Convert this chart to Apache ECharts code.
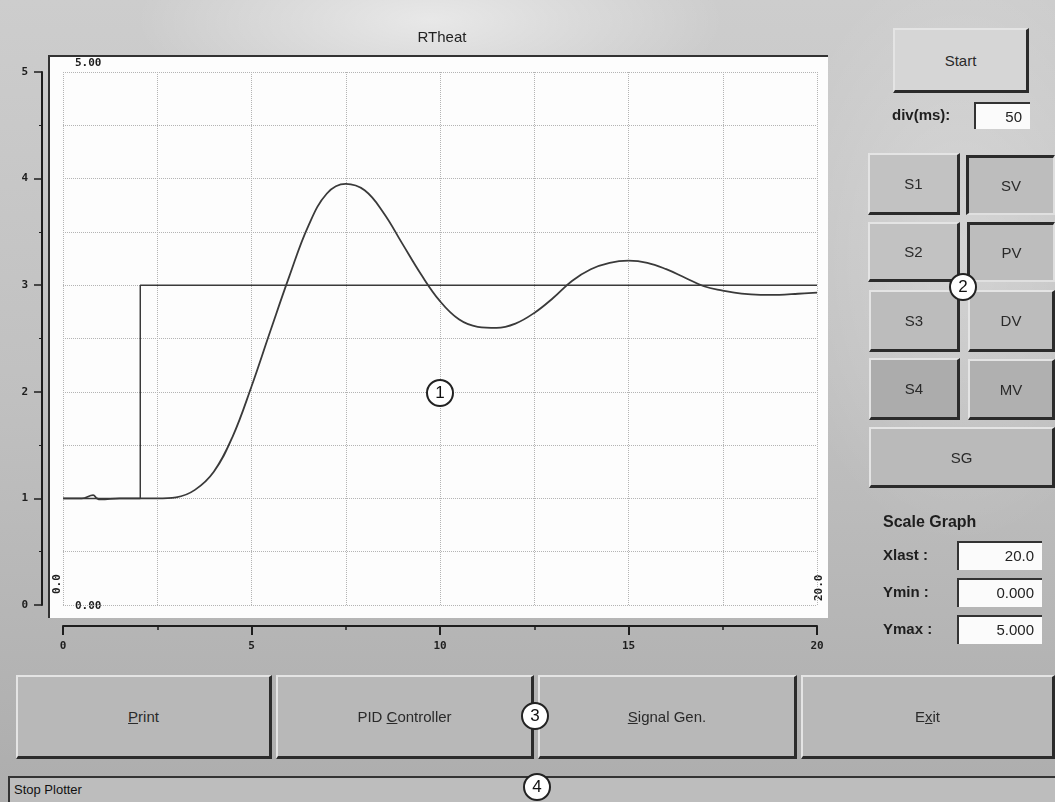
<!DOCTYPE html>
<html>
<head>
<meta charset="utf-8">
<script src="https://cdn.jsdelivr.net/npm/echarts@6/dist/echarts.min.js"></script>
<style>
  html, body { margin:0; padding:0; width:1055px; height:802px; overflow:hidden; }
  body {
    position:relative;
    font-family: "Liberation Sans", Arial, sans-serif;
    background:
      radial-gradient(ellipse 420px 140px at 430px 20px, rgba(255,255,255,0.55), rgba(255,255,255,0) 70%),
      radial-gradient(ellipse 260px 420px at 960px 250px, rgba(255,255,255,0.25), rgba(255,255,255,0) 70%),
      linear-gradient(180deg, #cdcdcd 0%, #c0c0c0 50%, #adadad 100%);
  }
  #panel { position:absolute; left:48px; top:55px; width:780px; height:563px; background:#fdfdfd;
           border-top:2px solid #333; border-left:2px solid #333; box-sizing:border-box; }
  #chart { position:absolute; left:0; top:0; width:1055px; height:802px; }
  .btn { position:absolute; box-sizing:border-box; background:#c2c2c2; color:#2a2a2a;
         display:flex; align-items:center; justify-content:center; font-size:15px;
         border-top:2px solid #e4e4e4; border-left:2px solid #e4e4e4;
         border-bottom:3px solid #2b2b2b; border-right:3px solid #2b2b2b; }
  .btn.sunk { border-top:3px solid #2b2b2b; border-left:3px solid #2b2b2b;
              border-bottom:2px solid #e0e0e0; border-right:2px solid #e0e0e0; background:#bdbdbd; }
  .lbl { position:absolute; font-weight:bold; font-size:15px; color:#1e1e1e; }
  .box { position:absolute; box-sizing:border-box; background:#fbfbfb; border-top:2px solid #333; border-left:2px solid #333;
         font-size:15px; color:#222; text-align:right; padding-right:8px; line-height:26px; }
  .circ { position:absolute; width:28px; height:28px; border-radius:50%; background:#fff; border:2px solid #222;
          box-sizing:border-box; font-size:17px; text-align:center; line-height:24px; color:#111; }
  u { text-decoration:underline; }
</style>
</head>
<body>
<div id="panel"></div>
<div id="chart"></div>

<div class="btn" style="left:893px;top:28px;width:136px;height:65px;background:#d6d6d6;">Start</div>
<div class="lbl" style="left:892px;top:106px;">div(ms):</div>
<div class="box" style="left:974px;top:102px;width:56px;height:27px;">50</div>

<div class="btn" style="left:868px;top:153px;width:92px;height:62px;">S1</div>
<div class="btn sunk" style="left:966px;top:155px;width:89px;height:60px;">SV</div>
<div class="btn" style="left:868px;top:222px;width:92px;height:60px;">S2</div>
<div class="btn sunk" style="left:967px;top:222px;width:88px;height:60px;">PV</div>
<div class="btn" style="left:869px;top:290px;width:91px;height:62px;background:#bcbcbc;">S3</div>
<div class="btn" style="left:968px;top:290px;width:87px;height:62px;background:#bcbcbc;">DV</div>
<div class="btn" style="left:869px;top:358px;width:91px;height:62px;background:#acacac;">S4</div>
<div class="btn" style="left:968px;top:359px;width:87px;height:61px;background:#b0b0b0;">MV</div>
<div class="btn" style="left:869px;top:427px;width:186px;height:61px;background:#bababa;">SG</div>

<div class="lbl" style="left:883px;top:513px;font-size:16px;">Scale Graph</div>
<div class="lbl" style="left:883px;top:546px;">Xlast :</div>
<div class="box" style="left:957px;top:541px;width:85px;height:29px;">20.0</div>
<div class="lbl" style="left:883px;top:583px;">Ymin :</div>
<div class="box" style="left:957px;top:578px;width:85px;height:29px;">0.000</div>
<div class="lbl" style="left:883px;top:620px;">Ymax :</div>
<div class="box" style="left:957px;top:615px;width:85px;height:29px;">5.000</div>

<div class="btn" style="left:16px;top:675px;width:256px;height:84px;background:#b8b8b8;"><span><u>P</u>rint</span></div>
<div class="btn" style="left:276px;top:675px;width:258px;height:84px;background:#b8b8b8;"><span>PID <u>C</u>ontroller</span></div>
<div class="btn" style="left:538px;top:675px;width:259px;height:84px;background:#b8b8b8;"><span><u>S</u>ignal Gen.</span></div>
<div class="btn" style="left:801px;top:675px;width:254px;height:84px;background:#b8b8b8;"><span>E<u>x</u>it</span></div>

<div style="position:absolute;left:8px;top:776px;width:1047px;height:26px;border-top:2px solid #333;border-left:2px solid #333;box-sizing:border-box;background:#bdbdbd;font-size:13px;color:#111;padding-left:4px;line-height:24px;">Stop Plotter</div>

<div class="circ" style="left:426px;top:379px;">1</div>
<div class="circ" style="left:949px;top:273px;">2</div>
<div class="circ" style="left:521px;top:702px;">3</div>
<div class="circ" style="left:523px;top:773px;">4</div>

<script>
// ---- data ----
var chartTitle = 'RTheat';
var xTickLabels = ['0', '5', '10', '15', '20'];
var yTickLabels = ['0', '1', '2', '3', '4', '5'];
var svTime  = [0, 2.05, 2.05, 20];
var svValue = [1.0, 1.0, 3.0, 3.0];
var pvTime  = [0, 0.5, 0.8, 0.9, 1.0, 1.5, 2.0, 2.5, 3.0, 3.5, 4.0, 4.5, 5.0, 5.5, 6.0, 6.5, 7.0, 7.5, 8.0, 8.5, 9.0, 9.5, 10.0, 10.5, 11.0, 11.5, 12.0, 12.5, 13.0, 13.5, 14.0, 14.5, 15.0, 15.5, 16.0, 16.5, 17.0, 17.5, 18.0, 18.5, 19.0, 19.5, 20.0];
var pvValue = [1.00, 1.00, 1.03, 1.00, 0.99, 1.00, 1.00, 1.00, 1.01, 1.08, 1.25, 1.58, 2.05, 2.57, 3.08, 3.55, 3.86, 3.95, 3.89, 3.68, 3.39, 3.10, 2.85, 2.68, 2.61, 2.60, 2.64, 2.74, 2.88, 3.04, 3.15, 3.21, 3.23, 3.21, 3.15, 3.07, 2.99, 2.95, 2.92, 2.91, 2.91, 2.92, 2.93];

var chart = echarts.init(document.getElementById('chart'), null, {renderer:'canvas'});
function pairs(xs, ys){ return xs.map(function(x,i){ return [x, ys[i]]; }); }
var monoLbl = { fontFamily:'DejaVu Sans Mono', fontWeight:'bold', fontSize:11, color:'#1e1e1e' };
var gridDot = { type:'dotted', color:'#b4b4b4', width:1 };

chart.setOption({
  backgroundColor:'transparent',
  animation:false,
  title:{ text:chartTitle, left:437, top:25, textAlign:'center',
          textStyle:{ fontFamily:'Liberation Sans', fontWeight:'normal', fontSize:15, color:'#222' } },
  grid:{ left:63, top:72, width:754, height:533 },
  xAxis:{ type:'value', min:0, max:20, interval:5, offset:21,
    axisLine:{ show:true, onZero:false, lineStyle:{ color:'#1e1e1e', width:2 } },
    axisTick:{ show:true, length:9, lineStyle:{ color:'#1e1e1e', width:2 } },
    minorTick:{ show:true, splitNumber:2, length:4, lineStyle:{ color:'#1e1e1e', width:1.5 } },
    axisLabel:Object.assign({ margin:15, formatter:function(v){ return xTickLabels[Math.round(v/5)]; } }, monoLbl),
    splitLine:{ show:true, lineStyle:gridDot },
    minorSplitLine:{ show:true, lineStyle:gridDot } },
  yAxis:{ type:'value', min:0, max:5, interval:1, offset:21,
    axisLine:{ show:true, onZero:false, lineStyle:{ color:'#1e1e1e', width:2 } },
    axisTick:{ show:true, length:8, lineStyle:{ color:'#1e1e1e', width:1.5 } },
    minorTick:{ show:true, splitNumber:2, length:3, lineStyle:{ color:'#1e1e1e', width:1 } },
    axisLabel:Object.assign({ margin:14, formatter:function(v){ return yTickLabels[Math.round(v)]; } }, monoLbl),
    splitLine:{ show:true, lineStyle:gridDot },
    minorSplitLine:{ show:true, lineStyle:gridDot } },
  graphic:[
    { type:'text', left:75, top:58, style:{ text:'5.00', font:'bold 11px "DejaVu Sans Mono"', fill:'#1e1e1e' } },
    { type:'text', left:75, top:601, style:{ text:'0.00', font:'bold 11px "DejaVu Sans Mono"', fill:'#1e1e1e' } },
    { type:'text', x:52, y:594, rotation:Math.PI/2, style:{ text:'0.0', font:'bold 11px "DejaVu Sans Mono"', fill:'#1e1e1e' } },
    { type:'text', x:814, y:601, rotation:Math.PI/2, style:{ text:'20.0', font:'bold 11px "DejaVu Sans Mono"', fill:'#1e1e1e' } }
  ],
  series:[
    { name:'SV', type:'line', data:pairs(svTime, svValue), symbol:'none',
      lineStyle:{ color:'#3a3a3a', width:1.5 } },
    { name:'PV', type:'line', data:pairs(pvTime, pvValue), symbol:'none', smooth:0.4,
      lineStyle:{ color:'#3a3a3a', width:1.8 } }
  ]
});
</script>
</body>
</html>
